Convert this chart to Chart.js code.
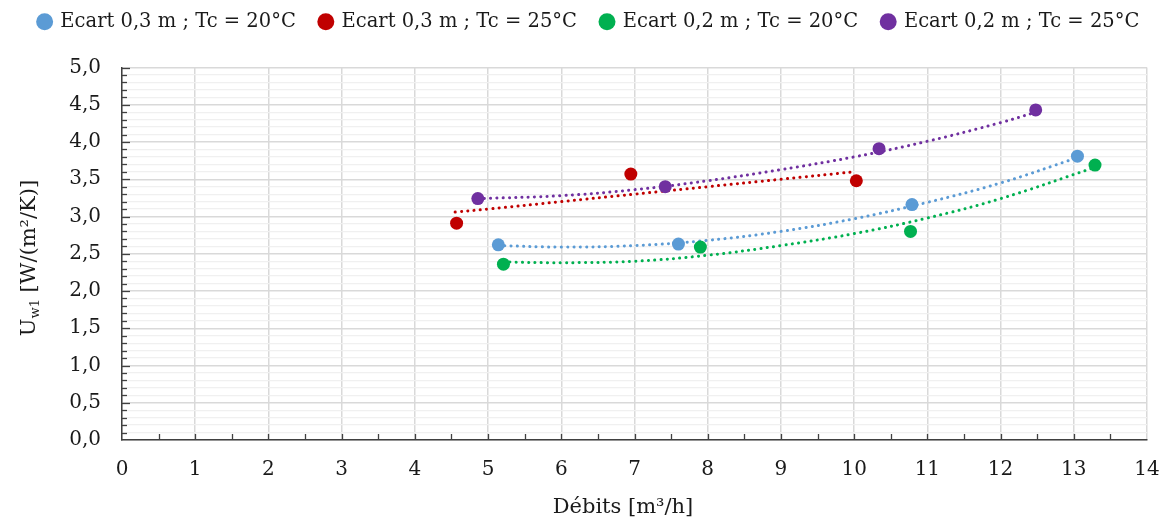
<!DOCTYPE html>
<html>
<head>
<meta charset="utf-8">
<script src="https://cdn.jsdelivr.net/npm/chart.js@4"></script>
<style>
  body { margin: 0; background: #fff; }
  #wrap { width: 1168px; height: 522px; }
</style>
</head>
<body>
<div id="wrap"><canvas id="chart" width="1168" height="522"></canvas></div>
<script>
// measured points
const blueX = [5.14, 7.60, 10.79, 13.05];
const blueY = [2.62, 2.63, 3.16, 3.81];
const redX = [4.57, 6.95, 10.03];
const redY = [2.91, 3.57, 3.48];
const greenX = [5.21, 7.90, 10.77, 13.29];
const greenY = [2.36, 2.59, 2.80, 3.69];
const purpleX = [4.86, 7.42, 10.34, 12.48];
const purpleY = [3.24, 3.40, 3.91, 4.43];

// dotted trend lines
const blueTrendX = [5.14, 6, 7, 8, 9, 10, 11, 12, 13.05];
const blueTrendY = [2.61, 2.59, 2.61, 2.68, 2.80, 2.97, 3.19, 3.45, 3.79];
const redTrendX = [4.55, 5, 6, 7, 8, 9, 10.0];
const redTrendY = [3.06, 3.10, 3.20, 3.30, 3.40, 3.50, 3.60];
const greenTrendX = [5.21, 6, 7, 8, 9, 10, 11, 12, 13.29];
const greenTrendY = [2.39, 2.38, 2.40, 2.48, 2.61, 2.77, 2.98, 3.24, 3.66];
const purpleTrendX = [4.86, 6, 7, 8, 9, 10, 11, 12, 12.48];
const purpleTrendY = [3.24, 3.28, 3.36, 3.48, 3.63, 3.80, 4.01, 4.26, 4.40];

const seriesNames = [
    'Ecart 0,3 m ; Tc = 20°C',
    'Ecart 0,3 m ; Tc = 25°C',
    'Ecart 0,2 m ; Tc = 20°C',
    'Ecart 0,2 m ; Tc = 25°C'
];
const colors = ['#5B9BD5', '#C00000', '#00B050', '#7030A0'];

const xTitle = 'Débits [m³/h]';
const yTitleMain = 'U';
const yTitleSub = 'w1';
const yTitleRest = ' [W/(m²/K)]';

const FONT = "'DejaVu Serif', serif";
const TEXT = '#1a1a1a';

function pairs(xs, ys) {
    return xs.map((x, i) => ({ x: x, y: ys[i] }));
}

const pointSets = [[blueX, blueY], [redX, redY], [greenX, greenY], [purpleX, purpleY]];
const trendSets = [[blueTrendX, blueTrendY], [redTrendX, redTrendY], [greenTrendX, greenTrendY], [purpleTrendX, purpleTrendY]];

const datasets = [];
pointSets.forEach((s, i) => {
    datasets.push({
        label: seriesNames[i],
        data: pairs(s[0], s[1]),
        backgroundColor: colors[i],
        borderColor: colors[i],
        pointRadius: 6.5,
        pointBorderWidth: 0,
        showLine: false
    });
});
trendSets.forEach((s, i) => {
    datasets.push({
        label: 'trend' + i,
        data: pairs(s[0], s[1]),
        borderColor: colors[i],
        borderWidth: 3,
        borderDash: [0.1, 6.2],
        borderCapStyle: 'round',
        pointRadius: 0,
        showLine: true,
        tension: 0.4,
        fill: false
    });
});

// small tick marks inside the plot + axis titles
const extras = {
    id: 'extras',
    afterDraw(chart) {
        const ctx = chart.ctx;
        const x = chart.scales.x, y = chart.scales.y;
        const area = chart.chartArea;
        ctx.save();
        ctx.strokeStyle = '#404040';
        ctx.lineWidth = 1.3;
        for (let v = 0.5; v < 14; v += 0.5) {
            const px = Math.round(x.getPixelForValue(v)) + 0.5;
            ctx.beginPath();
            ctx.moveTo(px, area.bottom);
            ctx.lineTo(px, area.bottom - 6);
            ctx.stroke();
        }
        for (let k = 1; k <= 50; k++) {
            const py = Math.round(y.getPixelForValue(k / 10)) + 0.5;
            const len = k % 5 === 0 ? 8 : 5;
            ctx.beginPath();
            ctx.moveTo(area.left, py);
            ctx.lineTo(area.left + len, py);
            ctx.stroke();
        }

        ctx.fillStyle = TEXT;
        ctx.textBaseline = 'alphabetic';
        // x title
        ctx.font = '21px ' + FONT;
        ctx.textAlign = 'center';
        ctx.fillText(xTitle, 623, 513);

        // y title with subscript
        ctx.translate(35, 258);
        ctx.rotate(-Math.PI / 2);
        ctx.textAlign = 'left';
        const big = '21px ' + FONT, small = '13px ' + FONT;
        ctx.font = big;
        const w1 = ctx.measureText(yTitleMain).width;
        const w3 = ctx.measureText(yTitleRest).width;
        ctx.font = small;
        const w2 = ctx.measureText(yTitleSub).width;
        let cx = -(w1 + w2 + w3) / 2;
        ctx.font = big;
        ctx.fillText(yTitleMain, cx, 0);
        cx += w1;
        ctx.font = small;
        ctx.fillText(yTitleSub, cx, 4);
        cx += w2;
        ctx.font = big;
        ctx.fillText(yTitleRest, cx, 0);
        ctx.restore();
    }
};

new Chart(document.getElementById('chart'), {
    type: 'scatter',
    data: { datasets: datasets },
    plugins: [extras],
    options: {
        responsive: false,
        animation: false,
        devicePixelRatio: 1,
        layout: { padding: { left: 10, right: 0, top: -12, bottom: 0 } },
        plugins: {
            tooltip: { enabled: false },
            // empty title used as a spacer between legend and plot
            title: {
                display: true,
                text: '',
                font: { size: 10, lineHeight: 1 },
                padding: { top: 0, bottom: 16 }
            },
            legend: {
                position: 'top',
                weight: 3000,
                labels: {
                    filter: item => item.datasetIndex < 4,
                    usePointStyle: true,
                    pointStyle: 'circle',
                    boxWidth: 12,
                    boxHeight: 12,
                    padding: 24,
                    color: TEXT,
                    font: { family: FONT, size: 19.5 }
                }
            }
        },
        scales: {
            x: {
                type: 'linear',
                min: 0,
                max: 14,
                ticks: {
                    stepSize: 1,
                    padding: 18,
                    color: TEXT,
                    font: { family: FONT, size: 20 }
                },
                grid: { color: '#d9d9d9', lineWidth: 1.5, drawTicks: false },
                border: { color: '#404040', width: 1.5 },
                afterFit: s => { s.height = 82; s.paddingLeft = 0; s.paddingRight = 21; }
            },
            y: {
                type: 'linear',
                min: 0,
                max: 5,
                ticks: {
                    stepSize: 0.1,
                    autoSkip: false,
                    padding: 21,
                    color: TEXT,
                    font: { family: FONT, size: 20 },
                    callback: v => {
                        const k = Math.round(v * 10);
                        return k % 5 === 0 ? (k / 10).toFixed(1).replace('.', ',') : '';
                    }
                },
                grid: {
                    drawTicks: false,
                    color: c => (Math.round(c.tick.value * 10) % 5 === 0 ? '#d9d9d9' : '#f0f0f0'),
                    lineWidth: c => (Math.round(c.tick.value * 10) % 5 === 0 ? 1.5 : 1.2)
                },
                border: { color: '#404040', width: 1.5 },
                afterFit: s => { s.width = 112; }
            }
        }
    }
});
</script>
</body>
</html>
